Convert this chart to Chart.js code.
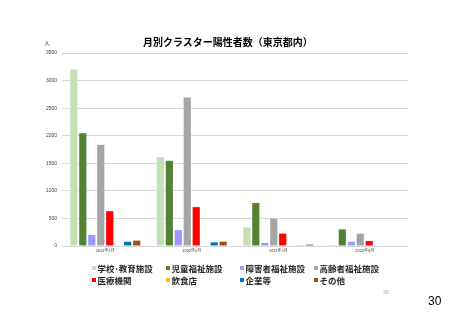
<!DOCTYPE html>
<html lang="ja">
<head>
<meta charset="UTF-8">
<title>月別クラスター陽性者数</title>
<script src="https://cdn.jsdelivr.net/npm/chart.js"></script>
<style>
  body { margin: 0; background: #fff; }
  #wrap { position: relative; width: 453px; height: 320px; font-family: "Noto Sans CJK JP", sans-serif; }
  #wrap canvas { position: absolute; left: 0; top: 0; }
  .txt { position: absolute; white-space: nowrap; line-height: 1; }
  #title { left: 143px; top: 37px; font-size: 10px; font-weight: bold; color: #000; }
  #unit { left: 44px; top: 40px; font-size: 6px; color: #404040; }
  #legend { position: absolute; left: 92px; top: 264px; width: 300px; }
  .item { position: absolute; font-size: 8.5px; font-weight: bold; color: #262626; white-space: nowrap; line-height: 1; }
  .item i { display: inline-block; width: 4px; height: 4px; margin-right: 1.5px; vertical-align: 2px; }
  #pg1 { left: 383px; top: 290px; font-size: 5px; color: #a6a6a6; font-family: "Liberation Sans", sans-serif; }
  #pg2 { left: 428px; top: 295px; font-size: 12px; color: #000; font-family: "Liberation Sans", sans-serif; }
</style>
</head>
<body>
<div id="wrap">
  <canvas id="myChart" width="453" height="320"></canvas>
  <div class="txt" id="title">月別クラスター陽性者数（東京都内）</div>
  <div class="txt" id="unit">人</div>
  <div id="legend"></div>
  <div class="txt" id="pg1">30</div>
  <div class="txt" id="pg2">30</div>
</div>
<script>
  // 月
  const months = ['2022年1月', '2022年2月', '2022年3月', '2022年4月'];
  // 施設区分
  const facilities = ['学校･教育施設', '児童福祉施設', '障害者福祉施設', '高齢者福祉施設', '医療機関', '飲食店', '企業等', 'その他'];
  const colors = ['#c5e0b4', '#548235', '#9999ff', '#a5a5a5', '#ff0000', '#ffc000', '#0070c0', '#a34c12'];

  // 各施設の月別陽性者数
  const school   = [3200, 1610, 335, 18];
  const child    = [2045, 1545, 780, 302];
  const disabled = [200, 290, 55, 78];
  const elderly  = [1835, 2695, 495, 223];
  const medical  = [632, 705, 225, 90];
  const food     = [0, 0, 0, 0];
  const company  = [78, 66, 12, 0];
  const other    = [97, 78, 25, 0];

  const yTicks = [0, 500, 1000, 1500, 2000, 2500, 3000, 3500];

  const series = [school, child, disabled, elderly, medical, food, company, other];

  // legend (4 columns x 2 rows)
  const legendCols = [0, 74, 148, 222];
  const legend = document.getElementById('legend');
  facilities.forEach((name, i) => {
    const d = document.createElement('div');
    d.className = 'item';
    d.style.left = legendCols[i % 4] + 'px';
    d.style.top = (Math.floor(i / 4) * 11.5) + 'px';
    d.innerHTML = '<i style="background:' + colors[i] + '"></i>' + name;
    legend.appendChild(d);
  });

  new Chart(document.getElementById('myChart'), {
    type: 'bar',
    data: {
      labels: months,
      datasets: series.map((vals, i) => ({
        label: facilities[i],
        data: vals,
        backgroundColor: colors[i],
        categoryPercentage: 0.83,
        barPercentage: 0.8
      }))
    },
    options: {
      responsive: false,
      animation: false,
      layout: { padding: { left: 0, right: 45, top: 53, bottom: 64 } },
      plugins: { legend: { display: false }, title: { display: false }, tooltip: { enabled: false } },
      scales: {
        x: {
          grid: { display: false, drawTicks: false },
          border: { display: false },
          ticks: { font: { size: 4, family: 'Noto Sans CJK JP' }, color: '#404040', padding: 2, maxRotation: 0 },
          afterFit: (s) => { s.height = 10; }
        },
        y: {
          min: 0, max: 3500,
          afterBuildTicks: (s) => { s.ticks = yTicks.map(v => ({ value: v })); },
          grid: { color: '#d9d9d9', lineWidth: 1, drawTicks: false },
          border: { display: false },
          ticks: { font: { size: 5, family: 'Liberation Sans' }, color: '#404040', padding: 5, callback: (v) => String(v) },
          afterFit: (s) => { s.width = 62; }
        }
      }
    }
  });
</script>
</body>
</html>
